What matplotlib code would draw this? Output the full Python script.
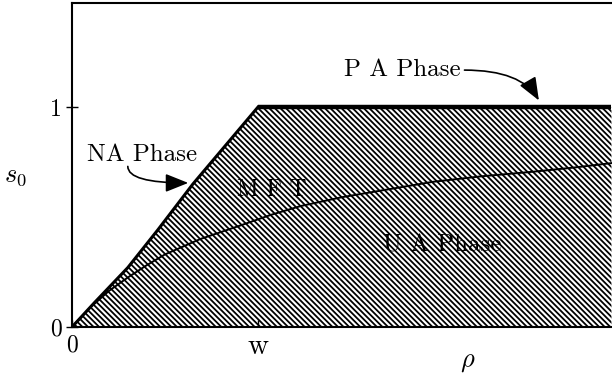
import matplotlib
matplotlib.use('Agg')
import matplotlib.pyplot as plt

# Phase boundary (NA / PA line), in units of w
boundary_rho = [0.0, 0.12, 0.30, 0.46, 0.65, 0.83, 1.0, 2.9]
boundary_s0 = [0.0, 0.11, 0.27, 0.44, 0.65, 0.83, 1.0, 1.0]

# Mean-field theory curve
mft_rho = [0.0, 0.10, 0.20, 0.30, 0.40, 0.50, 0.69, 0.90, 1.07, 1.23, 1.45, 1.66, 1.94, 2.20, 2.48, 2.70, 2.9]
mft_s0 = [0.0, 0.09, 0.165, 0.225, 0.28, 0.33, 0.40, 0.46, 0.51, 0.55, 0.59, 0.62, 0.66, 0.685, 0.706, 0.725, 0.745]

x_ticks = [0, 1]
x_tick_labels = ['0', 'w']
y_ticks = [0, 1]
y_tick_labels = ['0', '1']

plt.rcParams['font.family'] = ['cmr10', 'DejaVu Serif']
plt.rcParams['mathtext.fontset'] = 'cm'
plt.rcParams['axes.formatter.use_mathtext'] = True
plt.rcParams['hatch.linewidth'] = 1.3

fig = plt.figure(figsize=(6.12, 3.78), dpi=100)
ax = fig.add_axes([72 / 612, 51 / 378, 540 / 612, 324 / 378])

# Hatched U A region
ax.fill_between(boundary_rho, 0, boundary_s0, facecolor='white', edgecolor='black',
                hatch='\\' * 6, linewidth=0, zorder=1)

# boundary lines
ax.plot(boundary_rho[:7], boundary_s0[:7], color='black', lw=2.2, zorder=3)
ax.plot(boundary_rho[6:], boundary_s0[6:], color='black', lw=3.2, zorder=3, solid_capstyle='butt')

# MFT curve
ax.plot(mft_rho, mft_s0, color='black', lw=1.4, zorder=3)

# labels and arrows
arrow_kw = dict(arrowstyle='-|>,head_length=0.7,head_width=0.28', color='black',
                lw=1.2, shrinkA=0, shrinkB=0, mutation_scale=20)

ax.text(0.376, 0.78, 'NA Phase', fontsize=18, ha='center', va='center', zorder=4)
ax.annotate('', xy=(0.625, 0.655), xytext=(0.30, 0.73),
            arrowprops=dict(connectionstyle='angle3,angleA=90,angleB=0', **arrow_kw), zorder=4)

ax.text(1.775, 1.168, 'P A Phase', fontsize=18, ha='center', va='center', zorder=4)
ax.annotate('', xy=(2.51, 1.03), xytext=(2.11, 1.168),
            arrowprops=dict(connectionstyle='angle3,angleA=0,angleB=-60', **arrow_kw), zorder=4)

ax.text(1.075, 0.623, 'M F T', fontsize=17, ha='center', va='center', zorder=4)
ax.text(1.99, 0.373, 'U A Phase', fontsize=18, ha='center', va='center', zorder=4)

ax.set_xlim(0, 2.903)
ax.set_ylim(0, 1.473)

ax.set_xticks(x_ticks)
ax.set_xticklabels(x_tick_labels)
ax.set_yticks(y_ticks)
ax.set_yticklabels(y_tick_labels)
ax.tick_params(axis='x', direction='in', length=5, width=1, labelsize=17, pad=5)
ax.tick_params(axis='y', direction='inout', length=8, width=1, labelsize=17, pad=3)
ax.get_xticklabels()[1].set_fontsize(21)

for side in ['left', 'bottom', 'top']:
    ax.spines[side].set_linewidth(1.5)
ax.spines['right'].set_visible(False)

# axis labels
ax.text(0.733, -0.108, r'$\rho$', fontsize=19, ha='center', va='center', transform=ax.transAxes)
ax.text(-0.104, 0.466, r'$s_0$', fontsize=19, ha='center', va='center', transform=ax.transAxes)

fig.savefig('out.png', dpi=100)
